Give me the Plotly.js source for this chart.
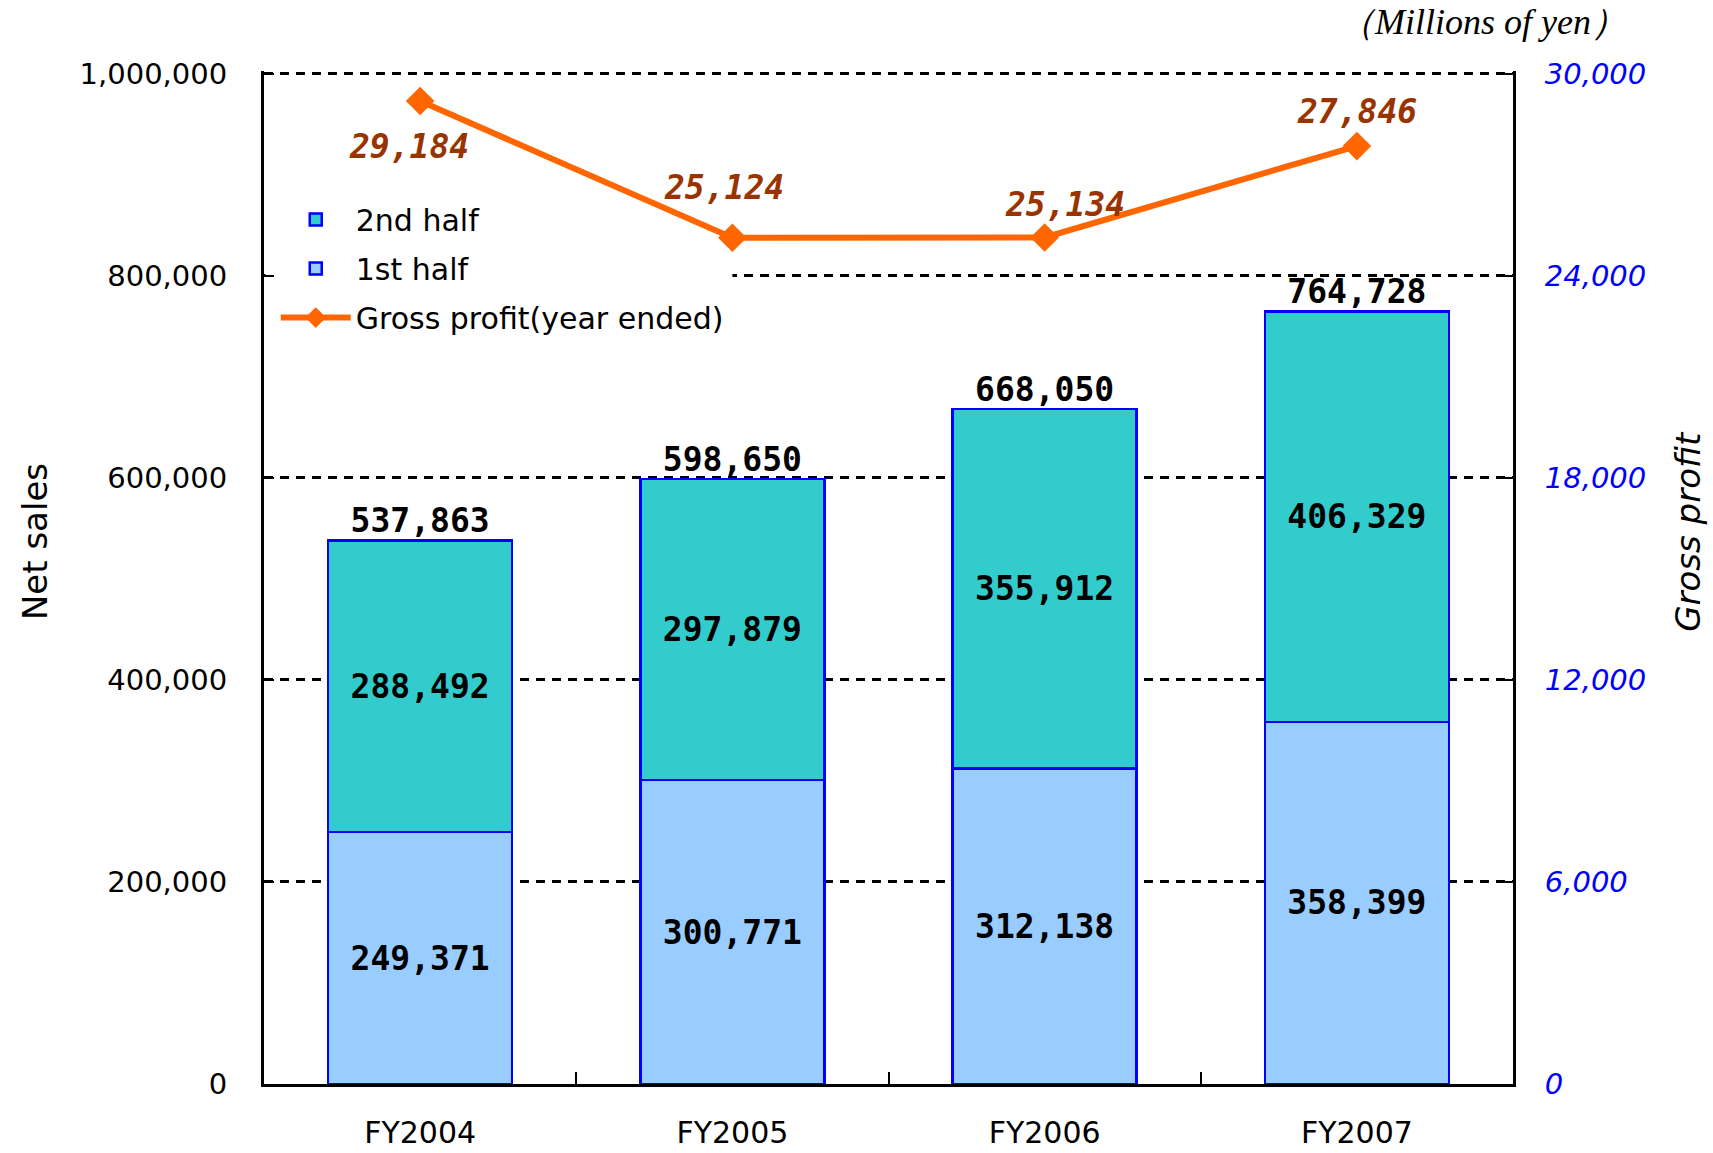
<!DOCTYPE html>
<html>
<head>
<meta charset="utf-8">
<script src="https://cdn.plot.ly/plotly-3.0.1.min.js"></script>
<style>html,body{margin:0;padding:0;background:#fff;}#chart{width:1713px;height:1153px;}</style>
</head>
<body>
<div id="chart"></div>
<script>
// ---- data ----
var categories = ["FY2004", "FY2005", "FY2006", "FY2007"];
var firstHalf = [249371, 300771, 312138, 358399];
var secondHalf = [288492, 297879, 355912, 406329];
var netSalesTotal = [537863, 598650, 668050, 764728];
var grossProfit = [29184, 25124, 25134, 27846];
var leftTicks = [0, 200000, 400000, 600000, 800000, 1000000];
var rightTicks = [0, 6000, 12000, 18000, 24000, 30000];

// ---- styles ----
var monoBold = {family: "DejaVu Sans Mono", size: 33, color: "#000000", weight: "bold"};
var profitLabelShift = [[-11, -45], [-8, 50], [20, 33], [0, 35]];
function fmt(v) { return v.toLocaleString("en-US"); }

var traces = [
  {
    type: "bar", name: "1st half", x: categories, y: firstHalf,
    marker: {color: "#99CCFF", line: {color: "#0000FF", width: 2.5}},
    texttemplate: "%{y:,}", textposition: "inside", insidetextanchor: "middle",
    textfont: monoBold, constraintext: "none",
    legendgroup: "g2", legendrank: 2, hoverinfo: "x+y"
  },
  {
    type: "bar", name: "2nd half", x: categories, y: secondHalf,
    marker: {color: "#33CCCC", line: {color: "#0000FF", width: 2.5}},
    texttemplate: "%{y:,}", textposition: "inside", insidetextanchor: "middle",
    textfont: monoBold, constraintext: "none",
    legendgroup: "g1", legendrank: 1, hoverinfo: "x+y"
  },
  {
    type: "scatter", mode: "text", x: categories, y: netSalesTotal,
    text: netSalesTotal.map(fmt), textposition: "top center",
    textfont: monoBold, showlegend: false, cliponaxis: false, hoverinfo: "skip"
  },
  {
    type: "scatter", mode: "lines+markers", name: "Gross profit(year ended)",
    x: categories, y: grossProfit, yaxis: "y2",
    line: {color: "#FF6600", width: 6},
    marker: {symbol: "diamond", size: 22, color: "#FF6600"},
    legendgroup: "g3", legendrank: 3, cliponaxis: false
  }
];

var annotations = grossProfit.map(function (v, i) {
  return {
    x: categories[i], y: v, xref: "x", yref: "y2",
    text: fmt(v), showarrow: false,
    xshift: profitLabelShift[i][0], yshift: profitLabelShift[i][1],
    font: {family: "DejaVu Sans Mono", size: 33, color: "#993300", style: "italic", weight: "bold"}
  };
});
annotations.push({
  xref: "paper", yref: "paper", x: 0.976, y: 1.048, xanchor: "center", yanchor: "middle",
  text: "（Millions of yen）", showarrow: false,
  font: {family: "Liberation Serif", size: 36, color: "#000000", style: "italic"}
});
// axis titles
annotations.push({
  xref: "paper", yref: "paper", x: -0.1833, y: 0.535, xanchor: "center", yanchor: "middle",
  text: "Net sales", textangle: -90, showarrow: false,
  font: {family: "DejaVu Sans", size: 34, color: "#000000"}
});
annotations.push({
  xref: "paper", yref: "paper", x: 1.140, y: 0.546, xanchor: "center", yanchor: "middle",
  text: "Gross profit", textangle: -90, showarrow: false,
  font: {family: "DejaVu Sans", size: 34, color: "#000000", style: "italic"}
});

var yTop = 1002500;          // tiny headroom so the 1,000,000 gridline is drawn
var y2Top = 30075;

var layout = {
  width: 1713, height: 1153,
  margin: {l: 264, r: 200, t: 71, b: 69},
  paper_bgcolor: "#ffffff", plot_bgcolor: "#ffffff",
  barmode: "stack", bargap: 0.41,
  showlegend: true,
  legend: {
    x: 0.0094, y: 0.879, xanchor: "left", yanchor: "top",
    bgcolor: "rgba(0,0,0,0)", borderwidth: 0,
    font: {family: "DejaVu Sans", size: 30, color: "#000000"},
    traceorder: "grouped", tracegroupgap: 7, itemwidth: 70
  },
  shapes: [
    // white patch hiding the gridline behind the legend
    {type: "rect", xref: "x", yref: "y", x0: -0.495, x1: 1.0, y0: 785000, y1: 815000,
     fillcolor: "#ffffff", line: {width: 0}, layer: "between"}
  ],
  xaxis: {
    type: "category", categoryorder: "array", categoryarray: categories,
    range: [-0.5, 3.5],
    showline: true, linecolor: "#000000", linewidth: 3,
    ticks: "inside", tickson: "boundaries", ticklen: 12, tickwidth: 2, tickcolor: "#000000",
    showgrid: false, zeroline: false,
    tickfont: {family: "DejaVu Sans", size: 30, color: "#000000"},
    ticklabelstandoff: 20
  },
  yaxis: {
    range: [0, yTop], tickmode: "array", tickvals: leftTicks,
    ticktext: leftTicks.map(fmt),
    showline: true, linecolor: "#000000", linewidth: 3,
    ticks: "inside", ticklen: 10, tickwidth: 2, tickcolor: "#000000",
    showgrid: true, gridcolor: "#000000", gridwidth: 3, griddash: "9px,7px",
    zeroline: false,
    tickfont: {family: "DejaVu Sans", size: 29, color: "#000000"},
    ticklabelstandoff: 28
  },
  yaxis2: {
    overlaying: "y", side: "right",
    range: [0, y2Top], tickmode: "array", tickvals: rightTicks,
    ticktext: rightTicks.map(fmt),
    showline: true, linecolor: "#000000", linewidth: 3,
    ticks: "inside", ticklen: 10, tickwidth: 2, tickcolor: "#000000",
    showgrid: false, zeroline: false,
    tickfont: {family: "DejaVu Sans", size: 29, color: "#0000FF", style: "italic"},
    ticklabelstandoff: 23
  },
  annotations: annotations
};

Plotly.newPlot("chart", traces, layout, {displayModeBar: false, staticPlot: true});
</script>
</body>
</html>
